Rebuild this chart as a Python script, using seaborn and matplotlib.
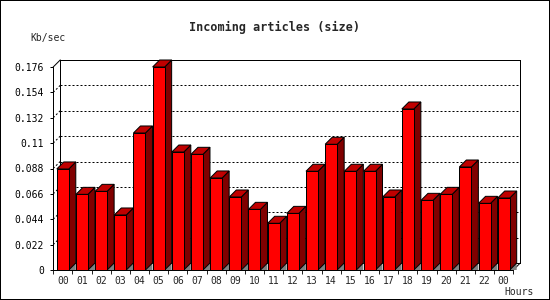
import numpy as np
import pandas as pd
import matplotlib
matplotlib.use("Agg")
import matplotlib.pyplot as plt
from matplotlib.patches import Polygon, Rectangle
import seaborn as sns

# ---- data ----
hours = ["00", "01", "02", "03", "04", "05", "06", "07", "08", "09", "10", "11",
         "12", "13", "14", "15", "16", "17", "18", "19", "20", "21", "22", "00"]
values = [0.0876, 0.0656, 0.0682, 0.0477, 0.1188, 0.1760, 0.1023, 0.1003,
          0.0798, 0.0633, 0.0526, 0.0405, 0.0491, 0.0856, 0.1090, 0.0856,
          0.0856, 0.0633, 0.1396, 0.0604, 0.0656, 0.0893, 0.0578, 0.0624]
yticks = [0, 0.022, 0.044, 0.066, 0.088, 0.11, 0.132, 0.154, 0.176]
ytick_labels = ["0", "0.022", "0.044", "0.066", "0.088", "0.11", "0.132", "0.154", "0.176"]
title = "Incoming articles (size)"
ylabel = "Kb/sec"
xlabel = "Hours"

# ---- styling ----
sns.set_style("white")
plt.rcParams['font.family'] = ['DejaVu Sans Mono', 'DejaVu Sans']
W, H, DPI = 550, 300, 100
fig = plt.figure(figsize=(W / DPI, H / DPI), dpi=DPI)
fig.patch.set_facecolor("white")

PX = 72.0 / DPI  # points per pixel
front_left, front_bottom, front_top = 53.2, 270.0, 67.0
slot_px = 19.17
depth_px = 7.0
right_px = 520.5
top_px = front_top - depth_px

ymax_val = yticks[-1]
val_per_px = ymax_val / (front_bottom - front_top)
ax = fig.add_axes([front_left / W, (H - front_bottom) / H,
                   (right_px - front_left) / W, (front_bottom - top_px) / H])

df = pd.DataFrame({"pos": np.arange(len(values)), "value": values})
bar_w = 12.0 / slot_px
sns.barplot(data=df, x="pos", y="value", color="#FF0000", saturation=1,
            width=bar_w, edgecolor="black", linewidth=PX, ax=ax, zorder=5)

x_lo = -0.5
x_hi = x_lo + (right_px - front_left) / slot_px
y_hi = (front_bottom - top_px) * val_per_px
ax.set_xlim(x_lo, x_hi)
ax.set_ylim(0, y_hi)
for s in ax.spines.values():
    s.set_visible(False)

dx = depth_px / slot_px
dy = depth_px * val_per_px
n = len(values)
x_end = x_lo + n

# back plane & gridlines
for v in yticks[1:-1]:
    ax.plot([x_lo + dx, x_end + dx], [v + dy, v + dy], color="black", lw=PX,
            ls=(0, (2, 2)), zorder=1, clip_on=False)
    ax.plot([x_lo, x_lo + dx], [v, v + dy], color="black", lw=PX,
            ls=(0, (2, 2)), zorder=1, clip_on=False)
bl = dict(color="black", lw=PX, zorder=1, clip_on=False, solid_capstyle="projecting")
ax.plot([x_lo + dx, x_end + dx], [ymax_val + dy] * 2, **bl)
ax.plot([x_end + dx] * 2, [dy, ymax_val + dy], **bl)
ax.plot([x_lo + dx] * 2, [dy, ymax_val + dy], **bl)
ax.plot([x_lo + dx, x_end + dx], [dy, dy], **bl)
ax.plot([x_lo, x_lo + dx], [ymax_val, ymax_val + dy], **bl)
ax.plot([x_end, x_end + dx], [0, dy], **bl)

# 3D faces for each bar
for p in ax.patches[:n]:
    x0 = p.get_x()
    w = p.get_width()
    h = p.get_height()
    x1 = x0 + w
    side = Polygon([(x1, 0), (x1 + dx, dy), (x1 + dx, h + dy), (x1, h)],
                   closed=True, facecolor="#800000", edgecolor="black", lw=PX, zorder=4)
    top = Polygon([(x0, h), (x0 + dx, h + dy), (x1 + dx, h + dy), (x1, h)],
                  closed=True, facecolor="#C00000", edgecolor="black", lw=PX, zorder=4)
    shadow = Polygon([(x1, 0), (x1 + dx, dy), (x1 + dx, 0)], closed=True,
                     facecolor="#808080", edgecolor="none", zorder=3)
    for poly in (shadow, side, top):
        poly.set_clip_on(False)
        ax.add_patch(poly)

# front axes lines
fl = dict(color="black", lw=PX, zorder=6, clip_on=False)
ax.plot([x_lo, x_lo], [0, ymax_val], **fl)
ax.plot([x_lo, x_end], [0, 0], **fl)

# ticks
ax.set_yticks(yticks)
ax.set_yticklabels(ytick_labels)
ax.tick_params(axis="y", left=True, length=3 * PX, width=PX, pad=6 * PX,
               labelsize=7, colors="black")
ax.set_xticks(np.arange(n))
ax.set_xticklabels(hours)
ax.set_xticks(np.arange(n + 1) - 0.5, minor=True)
ax.tick_params(axis="x", which="major", bottom=True, length=0, pad=6 * PX, labelsize=7)
ax.tick_params(axis="x", which="minor", bottom=True, length=4 * PX, width=PX)
ax.set_xlabel("")
ax.set_ylabel("")
ax.grid(False)

# texts
fig.text(274.5 / W, 1 - 27.5 / H, title, ha="center", va="center",
         fontsize=8.5, fontweight="bold", family=["DejaVu Sans Mono"])
fig.text(30 / W, 1 - 38.5 / H, ylabel, ha="left", va="center", fontsize=7)
fig.text(534 / W, 1 - 292 / H, xlabel, ha="right", va="center", fontsize=7)

# outer border
fig.patches.append(Rectangle((0, 0), 1, 1, transform=fig.transFigure, fill=False,
                             edgecolor="black", lw=2 * PX, zorder=10))

fig.savefig("out.png", dpi=DPI, facecolor="white")
